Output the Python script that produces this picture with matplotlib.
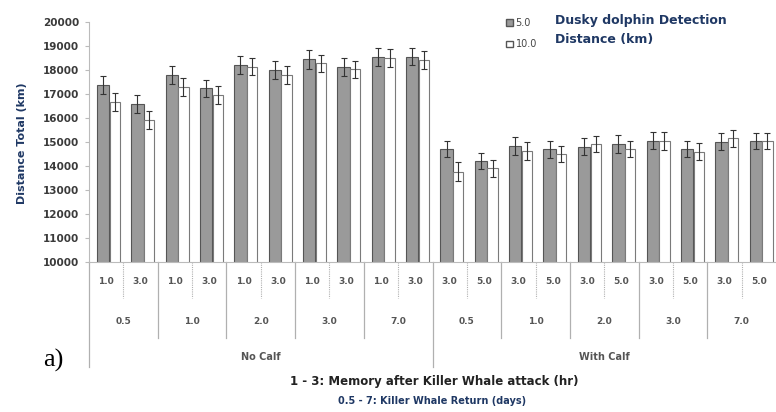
import matplotlib
matplotlib.use("Agg")
import matplotlib.pyplot as plt
from matplotlib.lines import Line2D
from matplotlib.patches import Patch
import numpy as np

# memory after killer whale attack (hr), one per bar pair
memory_labels = ["1.0", "3.0"] * 5 + ["3.0", "5.0"] * 5
# killer whale return (days)
return_labels = ["0.5", "1.0", "2.0", "3.0", "7.0"] * 2
calf_labels = ["No Calf", "With Calf"]

detect_5 = [17380, 16580, 17790, 17240, 18210, 18000, 18440, 18140, 18530, 18560,
            14700, 14210, 14830, 14700, 14800, 14920, 15055, 14710, 15010, 15040]
detect_10 = [16680, 15920, 17280, 16960, 18140, 17790, 18280, 18030, 18490, 18420,
             13760, 13900, 14625, 14500, 14920, 14710, 15055, 14600, 15150, 15040]
err_5 = [380, 360, 380, 360, 370, 370, 380, 370, 370, 370,
         340, 350, 360, 350, 350, 360, 360, 350, 360, 340]
err_10 = [380, 380, 370, 360, 360, 360, 360, 360, 370, 360,
          400, 340, 360, 340, 340, 340, 380, 340, 360, 330]

navy = "#1f3864"

fig = plt.figure(figsize=(7.76, 4.12), dpi=100)
ax = fig.add_axes([89 / 776, 1 - 262 / 412, 687 / 776, 240 / 412])

n = len(detect_5)
x = np.arange(n) + 0.5
ax.bar(x - 0.09, detect_5, width=0.36, color="#9a9a9a", edgecolor="#555555", linewidth=0.8,
       yerr=err_5, error_kw=dict(ecolor="#333333", elinewidth=0.8, capsize=2.5, capthick=0.8))
ax.bar(x + 0.25, detect_10, width=0.30, color="white", edgecolor="#7a7a7a", linewidth=0.8,
       yerr=err_10, error_kw=dict(ecolor="#333333", elinewidth=0.8, capsize=2.5, capthick=0.8))

ax.set_xlim(0, n)
ax.set_ylim(10000, 20000)
ax.set_yticks(np.arange(10000, 20001, 1000))
ax.tick_params(axis="y", labelsize=7.5, colors="#bbbbbb", labelcolor="#3a3a3a", length=3,
               width=0.8, pad=4)
for lbl in ax.get_yticklabels():
    lbl.set_fontweight("bold")
ax.set_xticks([])
for s in ["top", "right"]:
    ax.spines[s].set_visible(False)
ax.spines["left"].set_color("#bbbbbb")
ax.spines["bottom"].set_color("#bbbbbb")

trans = ax.get_xaxis_transform()
lc = "#b0b0b0"

# first level: memory labels
for i, lab in enumerate(memory_labels):
    ax.text(i + 0.5, -0.083, lab, transform=trans, ha="center", va="center",
            fontsize=6.5, fontweight="bold", color="#555555", clip_on=False)
    if i % 2 == 1:
        ax.add_line(Line2D([i, i], [0, -0.15], transform=trans, color=lc,
                           lw=0.8, ls=(0, (1, 1)), clip_on=False))

# second level: return labels
for g, lab in enumerate(return_labels):
    ax.text(2 * g + 1, -0.25, lab, transform=trans, ha="center", va="center",
            fontsize=6.5, fontweight="bold", color="#555555", clip_on=False)
    if g % 5 != 0:
        ax.add_line(Line2D([2 * g, 2 * g], [0, -0.317], transform=trans, color=lc,
                           lw=0.9, clip_on=False))

# third level: calf
for k, lab in enumerate(calf_labels):
    ax.text(10 * k + 5, -0.396, lab, transform=trans, ha="center", va="center",
            fontsize=7, fontweight="bold", color="#555555", clip_on=False)
    ax.add_line(Line2D([10 * k, 10 * k], [0, -0.4375], transform=trans, color=lc,
                       lw=0.9, clip_on=False))

fig.text(434 / 776, 1 - 382 / 412, "1 - 3: Memory after Killer Whale attack (hr)",
         ha="center", va="center", fontsize=8.5, fontweight="bold", color="#222222")
fig.text(432 / 776, 1 - 401 / 412, "0.5 - 7: Killer Whale Return (days)",
         ha="center", va="center", fontsize=7, fontweight="bold", color=navy)

fig.text(22 / 776, 1 - 143 / 412, "Distance Total (km)", rotation=90,
         ha="center", va="center", fontsize=8, fontweight="bold", color=navy)

fig.text(53 / 776, 1 - 360 / 412, "a)", ha="center", va="center",
         fontsize=19, family="Liberation Serif", color="black")

handles = [Patch(facecolor="#9a9a9a", edgecolor="#555555", label="5.0"),
           Patch(facecolor="white", edgecolor="#555555", label="10.0")]
fig.legend(handles=handles, loc="upper left", bbox_to_anchor=(497 / 776, 1 - 9 / 412),
           frameon=False, fontsize=7, handlelength=0.7, handleheight=0.7,
           handletextpad=0.3, labelspacing=1.2, labelcolor="#444444")
fig.text(555 / 776, 1 - 30 / 412, "Dusky dolphin Detection\nDistance (km)",
         ha="left", va="center", fontsize=9, fontweight="bold", color=navy,
         linespacing=1.6)

fig.savefig("out.png", dpi=100)
